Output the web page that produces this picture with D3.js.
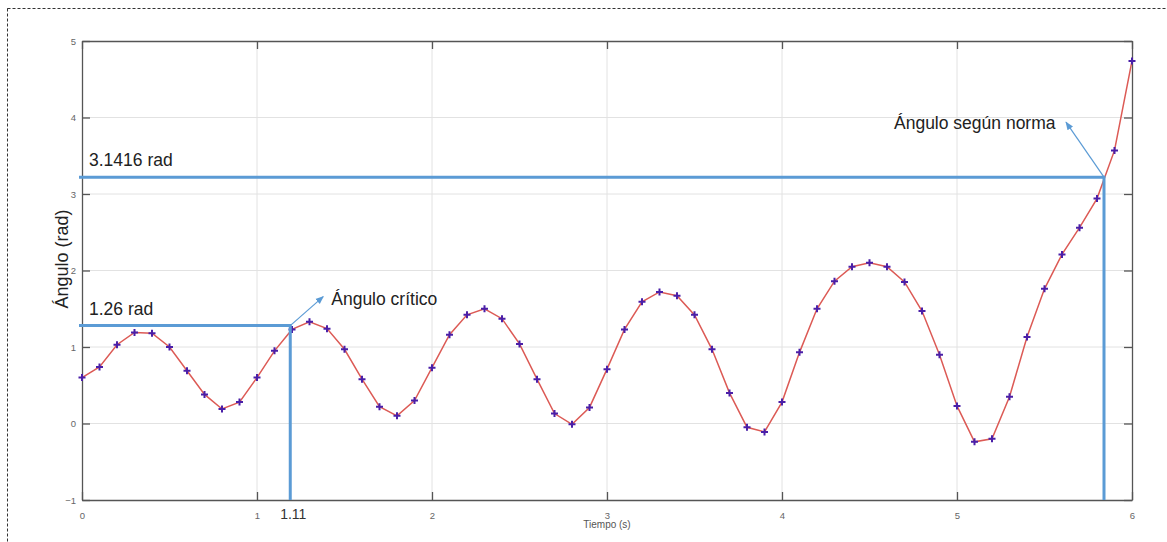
<!DOCTYPE html>
<html>
<head>
<meta charset="utf-8">
<script src="https://cdn.jsdelivr.net/npm/d3@7"></script>
<style>
  body { margin: 0; background: #fff; }
  svg { display: block; font-family: 'Liberation Sans', Arial, sans-serif; }
</style>
</head>
<body>
<script>
;(() => {
  // time samples (s) and angle (rad)
  const tiempo = d3.range(0, 61).map(i => +(i / 10).toFixed(1))
  const angulo = [
    0.60, 0.74, 1.03, 1.19, 1.18, 1.00, 0.69, 0.38, 0.19, 0.28,
    0.60, 0.95, 1.23, 1.33, 1.24, 0.97, 0.58, 0.22, 0.10, 0.30,
    0.73, 1.16, 1.42, 1.50, 1.37, 1.04, 0.58, 0.13, -0.01, 0.21,
    0.71, 1.23, 1.59, 1.72, 1.67, 1.42, 0.97, 0.40, -0.05, -0.11,
    0.28, 0.93, 1.50, 1.86, 2.05, 2.10, 2.05, 1.85, 1.47, 0.90,
    0.23, -0.24, -0.20, 0.35, 1.13, 1.76, 2.21, 2.56, 2.94, 3.57,
    4.74
  ]
  const xTicks = [0, 1, 2, 3, 4, 5, 6]
  const yTicks = [-1, 0, 1, 2, 3, 4, 5]

  // hand-drawn guides: [time, angle] where the lines meet the curve
  const critico = { t: 1.19, y: 1.28, rad: '1.26 rad', tLabel: '1.11', text: 'Ángulo crítico' }
  const norma = { t: 5.84, y: 3.22, rad: '3.1416 rad', text: 'Ángulo según norma' }

  const width = 1167, height = 542
  const margin = { top: 41, right: 35, bottom: 42, left: 82 }
  const blue = '#5b9bd5'

  const svg = d3.select('body').append('svg')
    .attr('width', width).attr('height', height)

  // dashed outer frame
  svg.append('rect')
    .attr('x', 7.5).attr('y', 8.5)
    .attr('width', width).attr('height', height)
    .attr('fill', 'none').attr('stroke', '#333')
    .attr('stroke-dasharray', '3,2')

  const x = d3.scaleLinear().domain([0, 6]).range([margin.left, width - margin.right])
  const y = d3.scaleLinear().domain([-1, 5]).range([height - margin.bottom, margin.top])

  const defs = svg.append('defs')
  defs.append('marker')
    .attr('id', 'arrow').attr('viewBox', '0 0 10 10')
    .attr('refX', 9).attr('refY', 5)
    .attr('markerWidth', 7).attr('markerHeight', 7)
    .attr('orient', 'auto')
    .append('path').attr('d', 'M0,1 L10,5 L0,9 Z').attr('fill', blue)

  // grid
  svg.append('g').selectAll('line').data(xTicks.slice(1, -1)).join('line')
    .attr('x1', d => x(d)).attr('x2', d => x(d))
    .attr('y1', y(-1)).attr('y2', y(5))
    .attr('stroke', '#e2e2e2')
  svg.append('g').selectAll('line').data(yTicks.slice(1, -1)).join('line')
    .attr('x1', x(0)).attr('x2', x(6))
    .attr('y1', d => y(d)).attr('y2', d => y(d))
    .attr('stroke', '#e2e2e2')

  // axes with inward ticks (box)
  const axisStyle = g => {
    g.select('.domain').attr('stroke', '#555').attr('stroke-width', 1.3)
    g.selectAll('.tick line').attr('stroke', '#555').attr('stroke-width', 1.3)
    g.selectAll('.tick text').attr('fill', '#666').attr('font-size', 9.5)
  }
  svg.append('g').attr('transform', `translate(0,${y(-1)})`)
    .call(d3.axisBottom(x).tickValues(xTicks).tickSizeInner(-8).tickSizeOuter(0).tickPadding(12).tickFormat(d3.format('d')))
    .call(axisStyle)
  svg.append('g').attr('transform', `translate(0,${y(5)})`)
    .call(d3.axisTop(x).tickValues(xTicks).tickSizeInner(-8).tickSizeOuter(0).tickFormat(''))
    .call(axisStyle)
  svg.append('g').attr('transform', `translate(${x(0)},0)`)
    .call(d3.axisLeft(y).tickValues(yTicks).tickSizeInner(-8).tickSizeOuter(0).tickPadding(6).tickFormat(d3.format('d')))
    .call(axisStyle)
  svg.append('g').attr('transform', `translate(${x(6)},0)`)
    .call(d3.axisRight(y).tickValues(yTicks).tickSizeInner(-8).tickSizeOuter(0).tickFormat(''))
    .call(axisStyle)

  // axis labels
  svg.append('text')
    .attr('x', x(3)).attr('y', height - 14)
    .attr('text-anchor', 'middle').attr('font-size', 10).attr('fill', '#555')
    .text('Tiempo (s)')
  svg.append('text')
    .attr('transform', `translate(68,${y(2.15)}) rotate(-90)`)
    .attr('text-anchor', 'middle').attr('font-size', 18).attr('fill', '#222')
    .text('Ángulo (rad)')

  // data
  const pts = tiempo.map((t, i) => [t, angulo[i]])
  svg.append('path')
    .datum(pts)
    .attr('fill', 'none').attr('stroke', '#dc5a55').attr('stroke-width', 1.5)
    .attr('d', d3.line().x(d => x(d[0])).y(d => y(d[1])))

  svg.append('g').selectAll('path').data(pts).join('path')
    .attr('transform', d => `translate(${x(d[0])},${y(d[1])})`)
    .attr('d', 'M-3.5,0H3.5M0,-3.5V3.5')
    .attr('stroke', '#4a1fa8').attr('stroke-width', 2)

  // guide lines
  const guides = [critico, norma]
  guides.forEach(g => {
    svg.append('path')
      .attr('d', `M${x(0) - 3},${y(g.y)}H${x(g.t)}V${y(-1)}`)
      .attr('fill', 'none').attr('stroke', blue).attr('stroke-width', 3)
    svg.append('text')
      .attr('x', x(0) + 7).attr('y', y(g.y) - 11)
      .attr('font-size', 17.5).attr('fill', '#222')
      .text(g.rad)
  })

  svg.append('text')
    .attr('x', x(critico.t) + 3).attr('y', y(-1) + 19)
    .attr('text-anchor', 'middle').attr('font-size', 14).attr('fill', '#333')
    .text(critico.tLabel)

  // arrows + labels
  svg.append('line')
    .attr('x1', x(critico.t)).attr('y1', y(critico.y))
    .attr('x2', x(critico.t) + 33).attr('y2', y(critico.y) - 29)
    .attr('stroke', blue).attr('stroke-width', 1.2).attr('marker-end', 'url(#arrow)')
  svg.append('text')
    .attr('x', x(critico.t) + 41).attr('y', y(critico.y) - 21)
    .attr('font-size', 17.5).attr('fill', '#222')
    .text(critico.text)

  svg.append('line')
    .attr('x1', x(norma.t)).attr('y1', y(norma.y))
    .attr('x2', x(norma.t) - 38).attr('y2', y(norma.y) - 55)
    .attr('stroke', blue).attr('stroke-width', 1.2).attr('marker-end', 'url(#arrow)')
  svg.append('text')
    .attr('x', x(norma.t) - 210).attr('y', y(norma.y) - 48)
    .attr('font-size', 17.5).attr('fill', '#222')
    .text(norma.text)
})()
</script>
</body>
</html>
